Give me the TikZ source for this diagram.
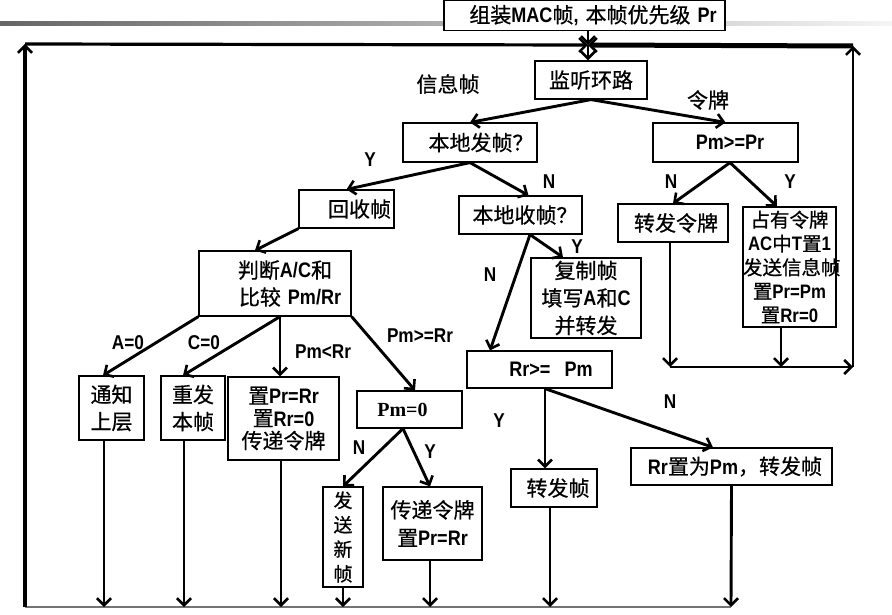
\documentclass[tikz,border=0pt]{standalone}
\usepackage{fontspec}
\setmainfont{Noto Sans CJK SC}[FakeBold=0.7]
\newfontfamily\latf[FakeStretch=0.86]{Liberation Sans}
\newfontfamily\serf{Liberation Serif}
\newcommand\lx[1]{{\latf\bfseries #1}}
\usetikzlibrary{arrows.meta}
\begin{document}
\begin{tikzpicture}[x=1pt,y=-1pt,
  box/.style={draw, line width=1.2pt, fill=white, inner sep=0pt, align=center,
    font=\fontsize{21}{27}\selectfont},
  lbl/.style={inner sep=0pt, font=\fontsize{21}{27}\selectfont},
  yn/.style={inner sep=0pt, font=\latf\bfseries\fontsize{20}{24}\selectfont},
  arr/.style={line width=2.9pt, -{Straight Barb[length=7pt,width=14pt,line width=2.6pt]}},
  loopline/.style={arr, line width=3.2pt},
  botline/.style={line width=2.2pt, draw=black!55}]
\useasboundingbox (0,0) rectangle (892,615);
\shade[left color=black!60, right color=black!4] (0,21.5) rectangle (892,25.5);

% coordinates of the loop
\coordinate (J) at (588,45);
\coordinate (TL) at (25,44);
\coordinate (BL) at (25,607);
\coordinate (TR) at (853,46);
\coordinate (BR) at (853,367);
\coordinate (R1) at (670,367);
\coordinate (R2) at (781,367);
\coordinate (b1) at (104,607);
\coordinate (b2) at (184,607);
\coordinate (b3) at (281,607);
\coordinate (b4) at (343,607);
\coordinate (b5) at (430,607);
\coordinate (b6) at (550,607);
\coordinate (b7) at (731,607);

% boxes
\node[box,text width=281pt,minimum height=30pt] (top) at (584.5,15.5) {\hspace*{17pt}组装\lx{MAC}帧\lx{,} 本帧优先级 \lx{Pr}};
\node[box,text width=112pt,minimum height=38pt] (jt) at (591,80) {监听环路};
\node[box,text width=134pt,minimum height=39pt] (fz) at (470,142.5) {\hspace*{22pt}本地发帧？};
\node[box,text width=145pt,minimum height=39pt] (pm) at (725.5,142.5) {\hspace*{9pt}\lx{Pm>=Pr}};
\node[box,text width=95pt,minimum height=38pt] (hs) at (346.5,209) {\hspace*{26pt}回收帧};
\node[box,text width=123pt,minimum height=38pt] (sz) at (520.5,215) {\hspace*{9pt}本地收帧？};
\node[box,text width=110pt,minimum height=38pt] (zl) at (673,223) {\hspace*{6pt}转发令牌};
\node[box,text width=93pt,minimum height=120pt,font=\fontsize{19.5}{23.8}\selectfont] (zy) at (789.5,267)
  {占有令牌\\\lx{AC}中\lx{T}置\lx{1}\\发送信息帧\\置\lx{Pr=Pm}\\置\lx{Rr=0}};
\node[box,text width=110pt,minimum height=80pt,font=\fontsize{21}{27.5}\selectfont] (fzh) at (586,298)
  {复制帧\\填写\lx{A}和\lx{C}\\并转发};
\node[box,text width=152pt,minimum height=65pt] (pd) at (275,283.5)
  {\hspace*{20pt}判断\lx{A/C}和\\\hspace*{30pt}比较 \lx{Pm/Rr}};
\node[box,text width=65pt,minimum height=64pt] (tz) at (111.5,408) {通知\\上层};
\node[box,text width=64pt,minimum height=64pt] (cf) at (193,408) {重发\\本帧};
\node[box,text width=111pt,minimum height=83pt,font=\fontsize{21}{22.5}\selectfont] (zp) at (283.5,418.5)
  {置\lx{Pr=Rr}\\置\lx{Rr=0}\\传递令牌};
\node[box,text width=105pt,minimum height=37pt,font=\serf\bfseries\fontsize{20}{24}\selectfont] (p0) at (409.5,409.5)
  {\hspace*{-14pt}Pm=0};
\node[box,text width=145pt,minimum height=37pt] (rr) at (539.5,369.5) {\hspace*{23pt}\lx{Rr>=\ \ Pm}};
\node[box,text width=40pt,minimum height=100pt,font=\fontsize{19}{24.5}\selectfont] (xx) at (343,537)
  {发\\送\\新\\帧};
\node[box,text width=99pt,minimum height=73pt,font=\fontsize{21}{28}\selectfont] (cd) at (432.5,523.5)
  {传递令牌\\置\lx{Pr=Rr}};
\node[box,text width=86pt,minimum height=38pt] (zf) at (554,488) {\hspace*{8pt}转发帧};
\node[box,text width=201pt,minimum height=37pt] (rz) at (731.5,466.5) {\hspace*{7pt}\lx{Rr}置为\lx{Pm}，转发帧};

% labels
\node[lbl] (l1) at (448,84) {信息帧};
\node[lbl] (l2) at (708,100) {令牌};
\node[yn] (y1) at (370,160) {Y};
\node[yn] (n1) at (549,182) {N};
\node[yn] (n2) at (671,182) {N};
\node[yn] (y2) at (790,182) {Y};
\node[yn] (y3) at (577,247) {Y};
\node[yn] (n3) at (490,275) {N};
\node[yn] (a0) at (128,343) {A=0};
\node[yn] (c0) at (204,343) {C=0};
\node[yn] (plr) at (323,352) {Pm<Rr};
\node[yn] (pgr) at (420,336) {Pm>=Rr};
\node[yn] (y4) at (499,421) {Y};
\node[yn] (n4) at (670,402) {N};
\node[yn] (n5) at (359,448) {N};
\node[yn] (y5) at (430,452) {Y};

% loop
\draw[arr, line width=2.2pt] (top.south -| J) -- (J);
\draw[arr, line width=2.2pt] (J) -- (jt.north -| J);
\draw[botline] (b7) -- (BL);
\draw[loopline] (BL) -- (TL);
\draw[loopline] (TL) -- (J);
\draw[arr] (R1) -- (BR);
\draw[arr] (BR) -- (TR);
\draw[loopline, line width=5pt] (TR) -- (J);

% connectors
\draw[arr] (jt.south) -- (fz.north);
\draw[arr] (jt.south) -- (pm.north);
\draw[arr] (fz.south) -- (hs.north);
\draw[arr] (fz.south) -- ([xshift=8pt]sz.north);
\draw[arr] ([xshift=4.5pt]pm.south) -- (zl.north);
\draw[arr] ([xshift=4.5pt]pm.south) -- ([xshift=-12.5pt]zy.north);
\draw[arr] ([xshift=-3pt]zl.south) -- (R1);
\draw[arr] ([xshift=-8.5pt]zy.south) -- (R2);
\draw[arr] (hs.south west) -- ([xshift=-20pt]pd.north);
\draw[arr] ([xshift=9.5pt]sz.south) -- ([xshift=-23pt]fzh.north);
\draw[arr] ([xshift=9.5pt]sz.south) -- ([xshift=-49.5pt]rr.north);
\draw[arr] (pd.south west) -- ([xshift=-8.5pt]tz.north);
\draw[arr] ([xshift=5pt]pd.south) -- ([xshift=-10pt]cf.north);
\draw[arr] ([xshift=5pt]pd.south) -- ([xshift=-3.5pt]zp.north);
\draw[arr] (pd.south east) -- ([xshift=5.5pt]p0.north);
\draw[arr] ([xshift=-6.5pt]p0.south) -- (xx.north);
\draw[arr] ([xshift=-6.5pt]p0.south) -- ([xshift=-2.5pt]cd.north);
\draw[arr] ([xshift=5.5pt]rr.south) -- ([xshift=-9pt]zf.north);
\draw[arr] ([xshift=5.5pt]rr.south) -- ([xshift=-18.5pt]rz.north);

% to the bottom line
\draw[arr] ([xshift=-7.5pt]tz.south) -- (b1);
\draw[arr] ([xshift=-9pt]cf.south) -- (b2);
\draw[arr] ([xshift=-2.5pt]zp.south) -- (b3);
\draw[arr] (xx.south) -- (b4);
\draw[arr] ([xshift=-2.5pt]cd.south) -- (b5);
\draw[arr] ([xshift=-4pt]zf.south) -- (b6);
\draw[arr] (rz.south) -- (b7);
\end{tikzpicture}
\end{document}
